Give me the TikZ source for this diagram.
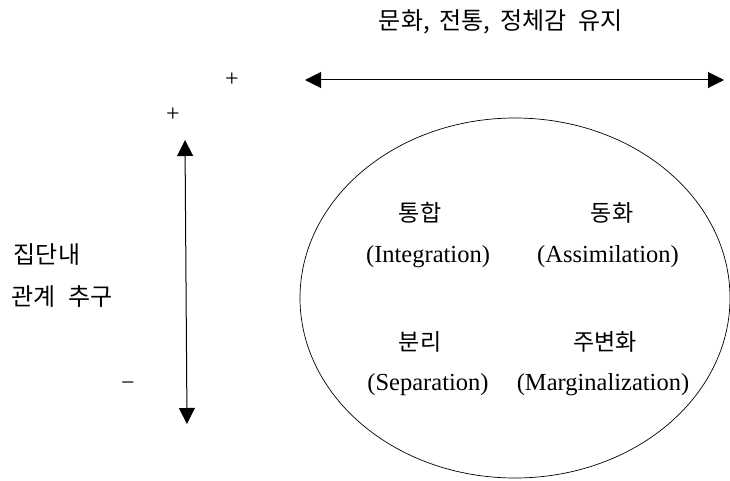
\documentclass[tikz,border=0pt]{standalone}
\usepackage{fontspec}
\setmainfont{Liberation Serif}
\newfontfamily\kr{Noto Sans CJK KR}
\usetikzlibrary{arrows.meta,shapes.geometric}
\begin{document}
\begin{tikzpicture}[x=1pt,y=-1pt,
  krlabel/.style={font=\kr\fontsize{23}{26}\selectfont, inner sep=0pt},
  sidelabel/.style={font=\kr\fontsize{24}{27}\selectfont, inner sep=0pt},
  enlabel/.style={font=\fontsize{24.5}{28}\selectfont, inner sep=0pt},
  sign/.style={font=\fontsize{24}{26}\selectfont, inner sep=0pt},
  axis/.style={line width=1pt, {Triangle[length=16pt,width=16pt]}-{Triangle[length=16pt,width=16pt]}}]
\useasboundingbox (0,0) rectangle (730,481);
% title
\node[sidelabel] (title) at (501,22) {문화,\hspace{10pt}전통,\hspace{10pt}정체감\hspace{12pt}유지};
% horizontal axis
\coordinate (hl) at (305,80);
\coordinate (hr) at (724,80);
\draw[axis] (hl) -- (hr);
\node[sign] (hplus) at (232,80) {+};
% vertical axis
\coordinate (vt) at (185,140);
\coordinate (vb) at (187,424);
\draw[axis] (vt) -- (vb);
\node[sign] (vplus) at (173,115) {+};
\node[sign] (vminus) at (128,386) {−};
% left label
\node[sidelabel] (l1) at (47,255) {집단내};
\node[sidelabel] (l2) at (62,297) {관계\hspace{12pt}추구};
% ellipse
\node[draw, line width=0.7pt, ellipse, minimum width=430pt, minimum height=360pt, inner sep=0pt] (ell) at (515,298) {};
% quadrants
\node[krlabel] (t1) at (420,213) {통합};
\node[enlabel] (e1) at (428,257) {(Integration)};
\node[krlabel] (t2) at (612,213) {동화};
\node[enlabel] (e2) at (608,257) {(Assimilation)};
\node[krlabel] (t3) at (420,342) {분리};
\node[enlabel] (e3) at (428,385) {(Separation)};
\node[krlabel] (t4) at (605,342) {주변화};
\node[enlabel] (e4) at (603,385) {(Marginalization)};
\end{tikzpicture}
\end{document}
